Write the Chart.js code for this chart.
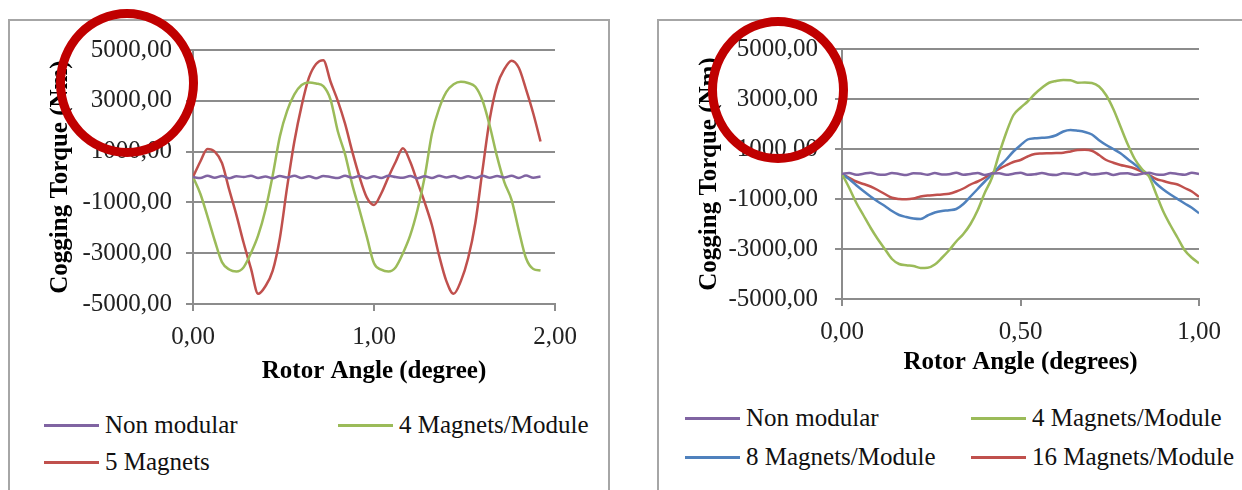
<!DOCTYPE html>
<html>
<head>
<meta charset="utf-8">
<script src="https://cdn.jsdelivr.net/npm/chart.js@4"></script>
<style>
  html, body { margin: 0; padding: 0; background: #fff; }
  body { width: 1242px; height: 490px; position: relative; overflow: hidden; font-family: 'Liberation Serif', serif; }
  .panel { position: absolute; border: 2px solid #a6a6a6; background: #fff; }
  .holder { position: absolute; top: 0; }
  .legend-item { position: absolute; height: 30px; display: flex; align-items: center; font-size: 25px; color: #111; white-space: nowrap; }
  .legend-item span.swatch { display: inline-block; width: 55px; height: 3px; margin-right: 6px; }
  .ring { position: absolute; box-sizing: border-box; border: 9px solid #c00000; border-radius: 50%; z-index: 5; }
</style>
</head>
<body>
<div class="panel" style="left:8px;top:19px;width:598px;height:500px;"></div>
<div class="panel" style="left:657px;top:19px;width:700px;height:500px;"></div>

<div class="holder" style="left:0px;"><canvas id="leftChart" width="620" height="400"></canvas></div>
<div class="holder" style="left:640px;"><canvas id="rightChart" width="602" height="400"></canvas></div>

<div id="leftLegend"></div>
<div id="rightLegend"></div>

<div class="ring" style="left:56px;top:9px;width:142px;height:148px;"></div>
<div class="ring" style="left:708px;top:17px;width:140px;height:146px;"></div>

<script>
// Left chart: rotor angle 0 - 1.92 deg
const leftAngles = [0, 0.04, 0.08, 0.12, 0.16, 0.2, 0.24, 0.28, 0.32, 0.36, 0.4, 0.44,
    0.48, 0.52, 0.56, 0.6, 0.64, 0.68, 0.72, 0.76, 0.8, 0.84, 0.88, 0.92,
    0.96, 1, 1.04, 1.08, 1.12, 1.16, 1.2, 1.24, 1.28, 1.32, 1.36, 1.4,
    1.44, 1.48, 1.52, 1.56, 1.6, 1.64, 1.68, 1.72, 1.76, 1.8, 1.84, 1.88, 1.92];
const leftNonModular = [0, -40, 50, -30, 40, -50, 30, 0, 50, -40,
    20, -50, 40, -20, 50, -40, 30, -50, 40, 0,
    -40, 50, -30, 40, -50, 30, -40, 50, 0, -30,
    40, -50, 30, -40, 50, -20, 40, -50, 30, -40,
    50, -30, 40, -20, 50, -40, 60, -30, 20];
const leftFourMagnets = [0, -650, -1550, -2500, -3350, -3640, -3720, -3550, -3000, -2300, -1300, 50,
    1600, 2600, 3250, 3620, 3720, 3680, 3580, 3050, 1800, 900, -300, -1300,
    -2350, -3400, -3650, -3720, -3550, -3000, -2300, -1300, 0, 1700, 2700, 3350,
    3650, 3750, 3700, 3550, 3000, 2000, 800, -200, -900, -2100, -3200, -3620, -3680];
const leftFiveMagnets = [0, 600, 1100, 1000, 550, -500, -1500, -2600, -3600, -4600, -4300, -3700,
    -2400, -400, 1400, 2800, 3900, 4450, 4600, 3750, 3000, 2100, 1000, 0,
    -800, -1100, -650, 0, 600, 1130, 600, -200, -1000, -1900, -3100, -4100,
    -4600, -4100, -3200, -1800, 300, 2300, 3600, 4250, 4580, 4300, 3450, 2500, 1400];

// Right chart: rotor angle 0 - 1 deg
const rightAngles = [0, 0.02, 0.04, 0.06, 0.08, 0.1, 0.12, 0.14, 0.16, 0.18,
    0.2, 0.22, 0.24, 0.26, 0.28, 0.3, 0.32, 0.34, 0.36, 0.38,
    0.4, 0.42, 0.44, 0.46, 0.48, 0.5, 0.52, 0.54, 0.56, 0.58,
    0.6, 0.62, 0.64, 0.66, 0.68, 0.7, 0.72, 0.74, 0.76, 0.78,
    0.8, 0.82, 0.84, 0.86, 0.88, 0.9, 0.92, 0.94, 0.96, 0.98, 1];
const rightNonModular = [0, 40, -30, 10, 50, -20, -30, 40, 0, -40,
    30, 20, -30, 40, -20, -10, 50, -30, 0, 40,
    -40, 20, 30, -30, 10, 50, -30, -10, 40, -20,
    -40, 30, 10, -30, 50, -20, 0, 40, -40, 20,
    30, -30, 10, 50, -20, -30, 40, 0, -30, 50, 0];
const rightFourMagnets = [0, -550, -1150, -1650, -2150, -2600, -3000, -3400, -3600, -3650,
    -3680, -3760, -3750, -3620, -3350, -3050, -2700, -2400, -2000, -1450,
    -750, -150, 800, 1650, 2350, 2650, 2900, 3200, 3450, 3650,
    3720, 3760, 3750, 3650, 3660, 3640, 3500, 3150, 2600, 1900,
    1200, 600, 200, -100, -800, -1500, -2050, -2550, -3050, -3350, -3570];
const rightEightMagnets = [0, -200, -450, -680, -900, -1100, -1280, -1480, -1640, -1720,
    -1780, -1800, -1660, -1540, -1480, -1450, -1400, -1200, -900, -600,
    -300, -20, 300, 580, 900, 1150, 1380, 1430, 1450, 1470,
    1550, 1700, 1760, 1730, 1680, 1580, 1350, 1160, 1000, 830,
    600, 380, 150, -60, -380, -620, -820, -1000, -1180, -1350, -1570];
const rightSixteenMagnets = [0, -150, -300, -400, -500, -640, -800, -950, -1000, -1010,
    -980, -900, -860, -840, -820, -790, -700, -580, -420, -300,
    -150, 30, 200, 350, 480, 560, 700, 800, 820, 830,
    840, 850, 900, 960, 970, 930, 760, 560, 450, 360,
    300, 220, 100, -40, -200, -280, -360, -420, -560, -700, -910];

// Tick values
const torqueTicks = [-5000, -3000, -1000, 1000, 3000, 5000];
const leftAngleTicks = [0, 1, 2];
const rightAngleTicks = [0, 0.5, 1];

// Colours (Excel 2007 palette)
const purple = '#8064a2';
const green = '#9bbb59';
const red = '#c0504d';
const blue = '#4f81bd';
const gridGray = '#8c8c8c';

const axisFont = { family: "'Liberation Serif', serif", size: 25 };
const titleFont = { family: "'Liberation Serif', serif", size: 25, weight: 'bold' };

const fmt = v => Number(v).toFixed(2).replace('.', ',');

function series(label, xs, ys, color) {
    return {
        label: label,
        data: xs.map((x, i) => ({ x: x, y: ys[i] })),
        borderColor: color,
        backgroundColor: color,
        borderWidth: 2.5,
        pointRadius: 0,
        fill: false,
        cubicInterpolationMode: 'monotone'
    };
}

function torqueChart(canvasId, datasets, opt) {
    return new Chart(document.getElementById(canvasId), {
        type: 'line',
        data: { datasets: datasets },
        options: {
            responsive: false,
            animation: false,
            events: [],
            layout: { padding: { top: opt.top, right: opt.right, bottom: 0, left: 0 } },
            plugins: { legend: { display: false }, tooltip: { enabled: false } },
            scales: {
                x: {
                    type: 'linear',
                    min: 0,
                    max: opt.xMax,
                    afterBuildTicks: s => { s.ticks = opt.xTicks.map(v => ({ value: v })); },
                    afterFit: s => { s.height = opt.xHeight; },
                    grid: { drawOnChartArea: false, color: gridGray, lineWidth: 2, tickLength: 7 },
                    border: { color: gridGray, width: 2 },
                    ticks: { font: axisFont, color: '#222', padding: 11, maxRotation: 0, callback: fmt },
                    title: { display: true, text: opt.xTitle, font: titleFont, color: '#000', padding: { top: 0, bottom: opt.xTitlePad } }
                },
                y: {
                    min: -5000,
                    max: 5000,
                    afterBuildTicks: s => { s.ticks = torqueTicks.map(v => ({ value: v })); },
                    afterFit: s => { s.width = opt.yWidth; },
                    grid: { color: gridGray, lineWidth: 2, tickLength: 7 },
                    border: { color: gridGray, width: 2 },
                    ticks: { font: axisFont, color: '#222', padding: opt.yPad, callback: fmt },
                    title: { display: true, text: 'Cogging Torque (Nm)', font: titleFont, color: '#000', padding: { top: opt.yTitlePad, bottom: 0 } }
                }
            }
        }
    });
}

// HTML legend built from the chart datasets
function buildLegend(chart, holderId, slots) {
    const holder = document.getElementById(holderId);
    chart.data.datasets.forEach((ds, i) => {
        const item = document.createElement('div');
        item.className = 'legend-item';
        item.style.left = slots[i][0] + 'px';
        item.style.top = (slots[i][1] - 15) + 'px';
        const sw = document.createElement('span');
        sw.className = 'swatch';
        sw.style.background = ds.borderColor;
        item.appendChild(sw);
        item.appendChild(document.createTextNode(ds.label));
        holder.appendChild(item);
    });
}

const leftChart = torqueChart('leftChart', [
    series('Non modular', leftAngles, leftNonModular, purple),
    series('4 Magnets/Module', leftAngles, leftFourMagnets, green),
    series('5 Magnets', leftAngles, leftFiveMagnets, red)
], { top: 50, right: 65, xMax: 2, xTicks: leftAngleTicks, xHeight: 96, xTitle: 'Rotor Angle (degree)', xTitlePad: 13, yWidth: 193, yPad: 14, yTitlePad: 46 });

const rightChart = torqueChart('rightChart', [
    series('Non modular', rightAngles, rightNonModular, purple),
    series('4 Magnets/Module', rightAngles, rightFourMagnets, green),
    series('8 Magnets/Module', rightAngles, rightEightMagnets, blue),
    series('16 Magnets/Module', rightAngles, rightSixteenMagnets, red)
], { top: 49, right: 43, xMax: 1, xTicks: rightAngleTicks, xHeight: 101, xTitle: 'Rotor Angle (degrees)', xTitlePad: 22, yWidth: 202, yPad: 17, yTitlePad: 55 });

buildLegend(leftChart, 'leftLegend', [[44, 425], [338, 425], [44, 462]]);
buildLegend(rightChart, 'rightLegend', [[685, 418], [971, 418], [685, 457], [971, 457]]);
</script>
</body>
</html>
